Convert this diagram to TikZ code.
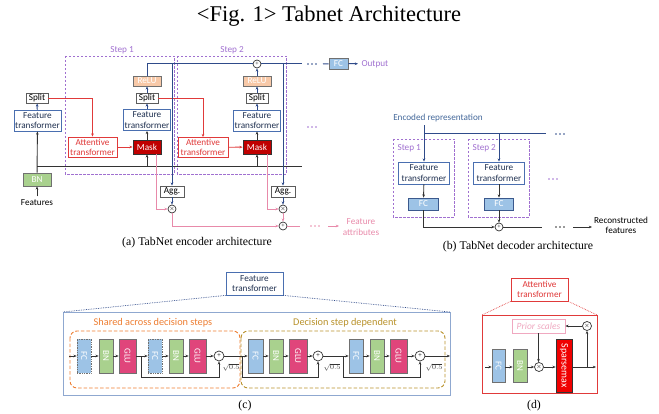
\documentclass[tikz,border=0pt]{standalone}
\usepackage{fontspec}
\usepackage{graphicx}
\setmainfont{Liberation Serif}
\newfontfamily\lblfont{Carlito}
\usetikzlibrary{arrows.meta}

\definecolor{navyline}{HTML}{2F4B8A}
\definecolor{ftborder}{HTML}{4A6FB0}
\definecolor{fttext}{HTML}{1F3050}
\definecolor{attred}{HTML}{E03A3A}
\definecolor{maskred}{HTML}{C00000}
\definecolor{relufill}{HTML}{F8C9A8}
\definecolor{steppurple}{HTML}{A070D0}
\definecolor{attrpink}{HTML}{E88AAA}
\definecolor{bngreen}{HTML}{A9D18E}
\definecolor{fcblue}{HTML}{9DC3E6}
\definecolor{glupink}{HTML}{E0457B}
\definecolor{sharedorange}{HTML}{ED7D31}
\definecolor{depgold}{HTML}{B8912A}
\definecolor{sparsered}{HTML}{F00000}
\definecolor{boxgray}{HTML}{707070}
\definecolor{darkline}{HTML}{333333}
\definecolor{bigblue}{HTML}{8FA8D0}
\definecolor{encblue}{HTML}{44689A}
\definecolor{priorpink}{HTML}{F0A8C0}

\begin{document}
\begin{tikzpicture}[x=1pt,y=-1pt,
  >={Stealth[length=3.2pt,width=2.6pt]},
  lbl/.style={font=\lblfont\fontsize{9.2}{10.2}\selectfont},
  basebox/.style={line width=0.8pt, inner sep=0pt, align=center, lbl},
  ftbox/.style={basebox, draw=ftborder, fill=white, text=fttext, minimum width=47pt, minimum height=21pt},
  plainbox/.style={basebox, draw=darkline!80, fill=white, text=black, minimum width=22pt, minimum height=10pt},
  relubox/.style={basebox, draw=boxgray, fill=relufill, text=white, minimum width=28pt, minimum height=10pt},
  maskbox/.style={basebox, draw=darkline, fill=maskred, text=white, minimum width=28pt, minimum height=14pt},
  attbox/.style={basebox, draw=attred, fill=white, text=attred, minimum width=49pt, minimum height=20pt},
  bnbox/.style={basebox, draw=boxgray, fill=bngreen, text=white, minimum width=28pt, minimum height=13pt},
  fcbox/.style={basebox, draw=boxgray, fill=fcblue, text=white, minimum width=19pt, minimum height=11pt},
  decfc/.style={basebox, draw=ftborder!80!black, fill=fcblue, text=white, minimum width=30pt, minimum height=12pt},
  stepframe/.style={draw=steppurple, line width=0.7pt, dash pattern=on 2.5pt off 1.5pt},
  steplbl/.style={lbl, text=steppurple},
  op/.style={circle, draw=darkline, fill=white, line width=0.7pt, inner sep=0pt, minimum size=8pt, font=\fontsize{6}{6}\selectfont},
  navyln/.style={draw=navyline, line width=1pt},
  blkln/.style={draw=darkline, line width=0.9pt},
  redln/.style={draw=attred, line width=0.9pt},
  pinkln/.style={draw=attrpink, line width=0.9pt},
  blk/.style={draw=boxgray, line width=0.7pt, inner sep=0pt, minimum width=14pt, minimum height=34pt, text=white, font=\lblfont\fontsize{9}{9}\selectfont},
  fcblk/.style={blk, fill=fcblue},
  bnblk/.style={blk, fill=bngreen},
  glublk/.style={blk, fill=glupink, minimum width=17pt},
  capt/.style={font=\fontsize{11.8}{13}\selectfont},
  zoomln/.style={line width=0.7pt, densely dotted},
  sqlbl/.style={font=\fontsize{7.5}{8}\selectfont, text=darkline}
]
\useasboundingbox (0,0) rectangle (659,414);

% ---------- title ----------
\node[font=\fontsize{22.5}{25}\selectfont] (title) at (329,16) {<Fig. 1> Tabnet Architecture};

% ---------- (a) encoder ----------
\draw[stepframe] (65,56) rectangle (174,174);
\draw[stepframe] (177,56) rectangle (286,174);
\node[steplbl] (s1lbl) at (122,50) {Step 1};
\node[steplbl] (s2lbl) at (232,50) {Step 2};

\node[lbl] (feat) at (37,203) {Features};
\node[bnbox] (bn) at (37,179.5) {BN};
\node[ftbox] (ft0) at (37.5,120.5) {Feature\\transformer};
\node[plainbox] (split0) at (37,98) {Split};

\node[attbox] (att1) at (92.5,147) {Attentive\\transformer};
\node[maskbox] (mask1) at (147,147) {Mask};
\node[ftbox] (ft1) at (147,120) {Feature\\transformer};
\node[plainbox] (split1) at (147,98) {Split};
\node[relubox] (relu1) at (147,81) {ReLU};

\node[attbox, minimum width=50pt] (att2) at (203,147.5) {Attentive\\transformer};
\node[maskbox] (mask2) at (257,147) {Mask};
\node[ftbox] (ft2) at (257,120.5) {Feature\\transformer};
\node[plainbox] (split2) at (257,98) {Split};
\node[relubox] (relu2) at (257,81) {ReLU};
\node[op] (ptop) at (257,64) {+};

\node[plainbox, minimum width=24pt, minimum height=11pt] (agg1) at (172,191.5) {Agg.};
\node[plainbox, minimum width=24pt, minimum height=11pt] (agg2) at (283,191.5) {Agg.};
\node[op] (mul1) at (172,209) {$\times$};
\node[op] (mul2) at (283,209) {$\times$};
\node[op] (plA) at (283,226) {+};

\node[fcbox] (fcout) at (338.5,63.5) {FC};
\node[lbl, text=steppurple, anchor=west] (output) at (358,64) {Output};
\node[lbl, text=attrpink, align=center] (fattr) at (361,227) {Feature\\attributes};

% input path
\draw[blkln,->] (feat) -- (bn);
\draw[blkln,->] (bn) -- (ft0);
\coordinate (h0) at (37,166);
\coordinate (h1) at (302,166);
\draw[blkln] (h0) -- (h1);
\draw[navyln,->] (ft0) -- (split0);

% step 1
\draw[redln,->] (split0.east) -| (att1.north);
\draw[redln,->] (att1) -- (mask1);
\draw[blkln,->] (mask1 |- h0) -- (mask1);
\draw[blkln,->] (mask1) -- (ft1);
\draw[navyln,->] (ft1) -- (split1);
\draw[navyln,->] (split1) -- (relu1);

% step 2
\draw[redln,->] (split1.east) -| (att2.north);
\draw[redln,->] (att2) -- (mask2);
\draw[blkln,->] (mask2 |- h0) -- (mask2);
\draw[blkln,->] (mask2) -- (ft2);
\draw[navyln,->] (ft2) -- (split2);
\draw[navyln,->] (split2) -- (relu2);
\draw[navyln,->] (relu2) -- (ptop);

% decision output line
\coordinate (topR) at (302,64);
\coordinate (b1) at (172,64);
\coordinate (b2) at (283,64);
\coordinate (fcin) at (323,64);
\draw[navyln] (relu1.north) |- (ptop.west);
\draw[navyln] (ptop.east) -- (topR);
\draw[navyln,->] (b1) -- (agg1);
\draw[navyln,->] (b2) -- (agg2);
\draw[navyln,->] (agg1) -- (mul1);
\draw[navyln,->] (agg2) -- (mul2);
\draw[navyln] (fcin) -- (fcout);
\draw[navyln,->] (fcout) -- (output);
\foreach \dx in {-4,0,4} \fill[navyline] ({312+\dx},64) circle (0.9pt);
\foreach \dx in {-4,0,4} \fill[steppurple] ({312+\dx},127) circle (0.8pt);

% feature attributes
\coordinate (pa0) at (300,226);
\coordinate (pa1) at (328,226);
\coordinate (pa2) at (339,226);
\draw[pinkln,->] ([xshift=9pt]mask1.south) |- (mul1);
\draw[pinkln,->] ([xshift=10pt]mask2.south) |- (mul2);
\draw[pinkln,->] (mul1) |- (plA);
\draw[pinkln,->] (mul2) -- (plA);
\draw[pinkln] (plA) -- (pa0);
\draw[pinkln,->] (pa1) -- (pa2);
\foreach \dx in {-4,0,4} \fill[attrpink] ({315+\dx},226) circle (0.8pt);

\node[capt] (capa) at (197,243) {(a) TabNet encoder architecture};

% ---------- (b) decoder ----------
\node[lbl, text=encblue] (enc) at (438,118) {Encoded representation};
\draw[stepframe] (393,139) rectangle (454,217);
\draw[stepframe] (468,139) rectangle (529,217);
\node[steplbl, anchor=west] (d1lbl) at (394,148) {Step 1};
\node[steplbl, anchor=west] (d2lbl) at (469,148) {Step 2};
\node[ftbox, minimum width=51pt, minimum height=22pt] (ftd1) at (424,173) {Feature\\transformer};
\node[ftbox, minimum width=51pt, minimum height=22pt] (ftd2) at (499,173) {Feature\\transformer};
\node[decfc] (fcd1) at (423.5,204) {FC};
\node[decfc, minimum width=29pt] (fcd2) at (499,204) {FC};
\node[op] (pld) at (499,227) {+};
\node[lbl, align=center, text=black] (recon) at (621,225.5) {Reconstructed\\features};

\coordinate (eh) at (546,134);
\coordinate (de0) at (542,227);
\coordinate (de1) at (573,227);
\coordinate (de2) at (592,227);
\draw[navyln,->] (enc.south -| ftd1) -- (ftd1);
\draw[navyln] (ftd1 |- eh) -- (eh);
\draw[navyln,->] (ftd2 |- eh) -- (ftd2);
\draw[blkln,->] (ftd1) -- (fcd1);
\draw[blkln,->] (ftd2) -- (fcd2);
\draw[blkln,->] (fcd1) |- (pld);
\draw[blkln,->] (fcd2) -- (pld);
\draw[blkln] (pld) -- (de0);
\draw[blkln,->] (de1) -- (de2);
\foreach \dx in {-4,0,4} \fill[navyline] ({560+\dx},134) circle (0.9pt);
\foreach \dx in {-4,0,4} \fill[darkline] ({560+\dx},227) circle (0.9pt);
\foreach \dx in {-4,0,4} \fill[steppurple] ({553+\dx},179) circle (0.8pt);

\node[capt] (capb) at (518,247) {(b) TabNet decoder architecture};

% ---------- (c) feature transformer ----------
\node[ftbox, minimum width=57pt, minimum height=23pt] (ftz) at (254.5,283.5) {Feature\\transformer};
\draw[draw=bigblue, line width=0.8pt] (63,312) rectangle (450,395);
\coordinate (cz0) at (63,312);
\coordinate (cz1) at (450,312);
\draw[zoomln, navyline] (ftz.south west) -- (cz0);
\draw[zoomln, navyline] (ftz.south east) -- (cz1);

\node[text=sharedorange, font=\lblfont\fontsize{10.3}{11}\selectfont] (shlbl) at (153,323) {Shared across decision steps};
\node[text=depgold, font=\lblfont\fontsize{10.3}{11}\selectfont] (deplbl) at (345,323) {Decision step dependent};
\draw[draw=sharedorange, line width=0.9pt, dash pattern=on 3.5pt off 2pt, rounded corners=7pt] (70,331) rectangle (240,388);
\draw[draw=depgold, line width=0.9pt, dash pattern=on 3.5pt off 2pt, rounded corners=7pt] (241,331) rectangle (445,388);

\node[fcblk, densely dotted] (c1) at (84,356) {\rotatebox{-90}{FC}};
\node[bnblk] (c2) at (106,356) {\rotatebox{-90}{BN}};
\node[glublk] (c3) at (127.5,356) {\rotatebox{-90}{GLU}};
\node[fcblk, densely dotted] (c4) at (155,356) {\rotatebox{-90}{FC}};
\node[bnblk] (c5) at (176,356) {\rotatebox{-90}{BN}};
\node[glublk] (c6) at (197.5,356) {\rotatebox{-90}{GLU}};
\node[op, minimum size=10pt, font=\fontsize{7}{7}\selectfont] (p1) at (219,356) {+};
\node[fcblk, minimum width=15pt] (c7) at (255.5,356) {\rotatebox{-90}{FC}};
\node[bnblk] (c8) at (276,356) {\rotatebox{-90}{BN}};
\node[glublk, minimum width=18pt] (c9) at (298,356) {\rotatebox{-90}{GLU}};
\node[op, minimum size=10pt, font=\fontsize{7}{7}\selectfont] (p2) at (318,356) {+};
\node[fcblk] (c10) at (356,356) {\rotatebox{-90}{FC}};
\node[bnblk] (c11) at (377,356) {\rotatebox{-90}{BN}};
\node[glublk] (c12) at (398.5,356) {\rotatebox{-90}{GLU}};
\node[op, minimum size=10pt, font=\fontsize{7}{7}\selectfont] (p3) at (420,356) {+};

\coordinate (cin) at (69,356);
\coordinate (cout) at (450,356);
\coordinate (r1) at (141,356);
\coordinate (r2) at (242,356);
\coordinate (r3) at (343,356);
\draw[blkln,->] (cin) -- (c1);
\draw[blkln,->] (c1) -- (c2);
\draw[blkln,->] (c2) -- (c3);
\draw[blkln,->] (c3) -- (c4);
\draw[blkln,->] (c4) -- (c5);
\draw[blkln,->] (c5) -- (c6);
\draw[blkln,->] (c6) -- (p1);
\draw[blkln,->] (p1) -- (c7);
\draw[blkln,->] (c7) -- (c8);
\draw[blkln,->] (c8) -- (c9);
\draw[blkln,->] (c9) -- (p2);
\draw[blkln,->] (p2) -- (c10);
\draw[blkln,->] (c10) -- (c11);
\draw[blkln,->] (c11) -- (c12);
\draw[blkln,->] (c12) -- (p3);
\draw[blkln,->] (p3) -- (cout);
\draw[blkln,->] (r1) -- ++(0,21) -| (p1.south);
\draw[blkln,->] (r2) -- ++(0,21) -| (p2.south);
\draw[blkln,->] (r3) -- ++(0,21) -| (p3.south);
\node[sqlbl] (sq1) at (231,367) {$\sqrt{0.5}$};
\node[sqlbl] (sq2) at (332,367) {$\sqrt{0.5}$};
\node[sqlbl] (sq3) at (434,367) {$\sqrt{0.5}$};

\node[capt] (capc) at (245,406) {(c)};

% ---------- (d) attentive transformer ----------
\node[attbox, minimum width=57pt, minimum height=23pt] (atz) at (539.5,289.5) {Attentive\\transformer};
\draw[draw=attred, line width=0.8pt] (482,315) rectangle (597,393);
\coordinate (dz0) at (482,315);
\coordinate (dz1) at (597,315);
\draw[zoomln, attred] (atz.south west) -- (dz0);
\draw[zoomln, attred] (atz.south east) -- (dz1);

\node[basebox, draw=priorpink, text=priorpink, fill=white, minimum width=53pt, minimum height=14pt, font=\lblfont\itshape\fontsize{9.5}{10}\selectfont] (prior) at (538.5,326) {Prior scales};
\node[op, minimum size=9pt] (mt) at (587,326) {$\times$};
\node[fcblk, minimum width=13pt, minimum height=33pt] (dfc) at (498.5,366) {\rotatebox{-90}{FC}};
\node[bnblk, minimum height=33pt] (dbn) at (520,366) {\rotatebox{-90}{BN}};
\node[op, minimum size=9pt] (mm) at (539,367) {$\times$};
\node[blk, fill=sparsered, draw=darkline, minimum width=16pt, minimum height=53pt, font=\lblfont\fontsize{10}{10}\selectfont] (spm) at (564,365.5) {\rotatebox{-90}{Sparsemax}};

\coordinate (din) at (485,367);
\coordinate (dout) at (596,367);
\coordinate (dbr) at (587,367);
\draw[blkln,->] (din) -- (dfc.west |- din);
\draw[blkln,->] (dfc.east |- din) -- (dbn.west |- din);
\draw[blkln,->] (dbn.east |- din) -- (mm);
\draw[blkln,->] (mm) -- (spm.west |- mm);
\draw[blkln,->] (spm.east |- din) -- (dout);
\draw[blkln,->] (dbr) -- (mt);
\draw[blkln,->] (mt) -- (prior);
\draw[blkln,->] (prior) -- (prior |- mm.north);

\node[capt] (capd) at (534,406) {(d)};
\end{tikzpicture}
\end{document}
